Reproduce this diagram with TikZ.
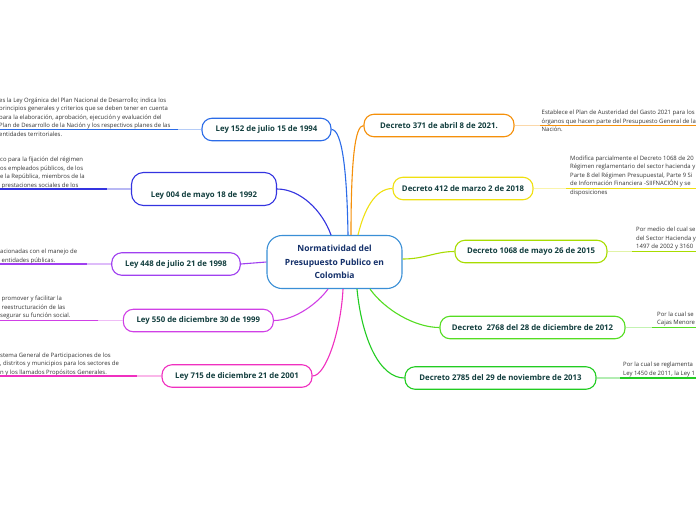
\documentclass[tikz,border=0pt]{standalone}
\usepackage{fontspec}
\setmainfont{Open Sans}
\definecolor{cA}{HTML}{2C6CE8}
\definecolor{cB}{HTML}{3434E0}
\definecolor{cC}{HTML}{A040F0}
\definecolor{cD}{HTML}{D040E6}
\definecolor{cE}{HTML}{F030C0}
\definecolor{cF}{HTML}{F5900A}
\definecolor{cG}{HTML}{F0E010}
\definecolor{cH}{HTML}{A8DC00}
\definecolor{cI}{HTML}{55DD22}
\definecolor{cJ}{HTML}{22CC22}
\definecolor{cCen}{HTML}{3A8FD6}
\definecolor{labelc}{HTML}{123E3E}
\definecolor{cenc}{HTML}{14306A}
\definecolor{descc}{HTML}{333333}
\tikzset{
  branch/.style={draw=#1, fill=white, line width=1.1pt, rounded corners=10pt,
    minimum height=22.5pt, inner sep=0pt, font=\bfseries\fontsize{7.8}{9}\selectfont, text=labelc},
  lbl/.style={inner sep=0pt, font=\bfseries\fontsize{7.8}{9}\selectfont, text=labelc},
  desc/.style={anchor=north west, inner sep=0pt, align=left,
    font=\fontsize{5.95}{8.5}\selectfont, text=descc},
  conn/.style={draw=#1, line width=1.1pt},
  ulight/.style={draw=#1!35, line width=1.2pt},
  udark/.style={draw=#1, line width=1.5pt}
}
\begin{document}
\begin{tikzpicture}[x=1pt,y=-1pt]
\useasboundingbox (0,0) rectangle (696,520);
\clip (0,0) rectangle (696,520);
\fill[white] (0,0) rectangle (696,520);

% central node
\node[draw=cCen, fill=white, line width=1.1pt, rounded corners=15pt, minimum width=135pt,
  minimum height=53pt, inner sep=0pt, align=center, text=cenc,
  font=\bfseries\fontsize{8.5}{13.5}\selectfont] (cen) at (334.5,262)
  {Normatividad del\\Presupuesto Publico en\\Colombia};

% branch nodes
\node[branch=cA, minimum width=129pt] (l152) at (266.5,129.5) {Ley 152 de julio 15 de 1994};
\node[branch=cB, minimum width=145pt, minimum height=33pt, rounded corners=12pt] (l004) at (204,189) {};
\node[lbl] (l004t) at (204,195) {Ley 004 de mayo 18 de 1992};
\node[branch=cC, minimum width=128.5pt] (l448) at (176,264) {Ley 448 de julio 21 de 1998};
\node[branch=cD, minimum width=150pt] (l550) at (198.3,320.5) {Ley 550 de diciembre 30 de 1999};
\node[branch=cE, minimum width=150pt] (l715) at (237,376) {Ley 715 de diciembre 21 de 2001};
\node[branch=cF, minimum width=150pt] (d371) at (439,125.5) {Decreto 371 de abril 8 de 2021.};
\node[branch=cG, minimum width=140pt] (d412) at (463,188.5) {Decreto 412 de marzo 2 de 2018};
\node[branch=cH, minimum width=152pt] (d1068) at (531,251.5) {Decreto 1068 de mayo 26 de 2015};
\node[branch=cI, minimum width=185pt] (d2768) at (532.5,327.5) {Decreto\ \ 2768 del 28 de diciembre de 2012};
\node[branch=cJ, minimum width=191pt] (d2785) at (500.5,378) {Decreto 2785 del 29 de noviembre de 2013};

% connector endpoints on the central node
\coordinate (eA) at ([xshift=13.5pt]cen.north);
\coordinate (eB) at ([xshift=-3.5pt]cen.north);
\coordinate (eF) at ([xshift=16.5pt]cen.north);
\coordinate (eG) at ([xshift=23.5pt]cen.north);
\coordinate (eD) at ([xshift=-6.5pt]cen.south);
\coordinate (eE) at ([xshift=8.5pt]cen.south);
\coordinate (eJ) at ([xshift=22.5pt]cen.south);
\coordinate (eI) at ([xshift=35.5pt]cen.south);
\coordinate (eH) at ([yshift=3pt]cen.east);

% underline points
\coordinate (uA) at (178,129.5);   \coordinate (zA) at (-2,129.5);
\coordinate (uB) at (106.7,189);   \coordinate (zB) at (-2,189);
\coordinate (uC) at (86.7,264);    \coordinate (zC) at (-2,264);
\coordinate (uD) at (98.3,320.5);  \coordinate (zD) at (-2,320.5);
\coordinate (uE) at (136.7,376);   \coordinate (zE) at (-2,376);
\coordinate (uF) at (540,125.5);   \coordinate (zF) at (698,125.5);
\coordinate (uG) at (566,188.5);   \coordinate (zG) at (698,188.5);
\coordinate (uH) at (632,251.5);   \coordinate (zH) at (698,251.5);
\coordinate (uI) at (652,327.5);   \coordinate (zI) at (698,327.5);
\coordinate (uJ) at (620,378);     \coordinate (zJ) at (698,378);

% description texts
\node[desc] (tA) at (-1,97.5) {es la Ley Orgánica del Plan Nacional de Desarrollo; indica los\\
principios generales y criterios que se deben tener en cuenta\\
para la elaboración, aprobación, ejecución y evaluación del\\
Plan de Desarrollo de la Nación y los respectivos planes de las\\
entidades territoriales.};
\node[desc] (tB) at (0,157) {co para la fijación del régimen\\os empleados públicos, de los\\e la República, miembros de la\\ \ prestaciones sociales de los};
\node[desc] (tC) at (0,249) {acionadas con el manejo de\\ \ entidades públicas.};
\node[desc] (tD) at (0,296) {\ promover y facilitar la\\ \ reestructuración de las\\segurar su función social.};
\node[desc] (tE) at (0,352.5) {stema General de Participaciones de los\\, distritos y municipios para los sectores de\\n y los llamados Propósitos Generales.};
\node[desc] (tF) at (541.5,110) {Establece el Plan de Austeridad del Gasto 2021 para los\\órganos que hacen parte del Presupuesto General de la\\Nación.};
\node[desc] (tG) at (570,155.5) {Modifica parcialmente el Decreto 1068 de 20\\Régimen reglamentario del sector hacienda y\\Parte 8 del Régimen Presupuestal, Parte 9 Si\\de Información Financiera -SIIFNACIÓN y se\\disposiciones};
\node[desc] (tH) at (636,227) {Por medio del cual se\\del Sector Hacienda y\\1497 de 2002 y 3160};
\node[desc] (tI) at (657,311.5) {Por la cual se\\Cajas Menore};
\node[desc] (tJ) at (623,362) {Por la cual se reglamenta\\Ley 1450 de 2011, la Ley 1};

% underlines
\draw[ulight=cA] (l152.west) -- (uA); \draw[udark=cA] (uA) -- (zA);
\draw[ulight=cB] (l004.west) -- (uB); \draw[udark=cB] (uB) -- (zB);
\draw[ulight=cC] (l448.west) -- (uC); \draw[udark=cC] (uC) -- (zC);
\draw[ulight=cD] (l550.west) -- (uD); \draw[udark=cD] (uD) -- (zD);
\draw[ulight=cE] (l715.west) -- (uE); \draw[udark=cE] (uE) -- (zE);
\draw[ulight=cF] (d371.east) -- (uF); \draw[udark=cF] (uF) -- (zF);
\draw[ulight=cG] (d412.east) -- (uG); \draw[udark=cG] (uG) -- (zG);
\draw[ulight=cH] (d1068.east) -- (uH); \draw[udark=cH] (uH) -- (zH);
\draw[ulight=cI] (d2768.east) -- (uI); \draw[udark=cI] (uI) -- (zI);
\draw[ulight=cJ] (d2785.east) -- (uJ); \draw[udark=cJ] (uJ) -- (zJ);

% connectors
\draw[conn=cA] (l152.east) .. controls (342,129.5) and (347,170) .. (eA);
\draw[conn=cB] (l004.east) .. controls (300,189) and (322,210) .. (eB);
\draw[conn=cC] (l448.east) -- (cen.west);
\draw[conn=cD] (l550.east) .. controls (295,320.5) and (318,303) .. (eD);
\draw[conn=cE] (l715.east) .. controls (326,376) and (341,330) .. (eE);
\draw[conn=cF] (d371.west) .. controls (355,125.5) and (351,160) .. (eF);
\draw[conn=cG] (d412.west) .. controls (375,188.5) and (364,210) .. (eG);
\draw[conn=cH] (d1068.west) .. controls (435,251.5) and (425,259) .. (eH);
\draw[conn=cI] (d2768.west) .. controls (415,327.5) and (385,310) .. (eI);
\draw[conn=cJ] (d2785.west) .. controls (380,378) and (362,340) .. (eJ);
\end{tikzpicture}
\end{document}
